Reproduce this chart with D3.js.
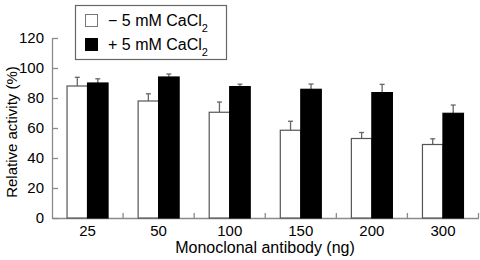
<!DOCTYPE html>
<html><head><meta charset="utf-8">
<script src="https://cdn.jsdelivr.net/npm/d3@7"></script>
<style>body{margin:0;background:#fff}svg{display:block}text{font-family:"Liberation Sans",Arial,sans-serif;fill:#000}</style>
</head><body><svg id="c" width="480" height="260"></svg>
<script>
const categories = ["25","50","100","150","200","300"];
const seriesNames = ["− 5 mM CaCl", "+ 5 mM CaCl"];
const withoutCa = [88, 78, 70.5, 58.5, 53, 49];
const withoutCaErr = [5.8, 4.8, 6.8, 6, 4, 3.8];
const withCa = [90, 94, 87.6, 85.8, 83.6, 69.8];
const withCaErr = [2.8, 2, 1.6, 3.5, 5.5, 5.5];
const yTicks = [0,20,40,60,80,100,120];

const svg = d3.select("#c");
const m = {l:52, r:2, t:38, b:42};
const x = d3.scaleBand().domain(categories).range([m.l, 478.5]).padding(0);
const y = d3.scaleLinear().domain([0,120]).range([218, 38]);
const axisCol = "#8a8a8a";

const barW = 20.5;
const series = [
  {vals: withoutCa, err: withoutCaErr, fill:"#fff", stroke:"#555", off:-barW},
  {vals: withCa, err: withCaErr, fill:"#000", stroke:"#000", off:0}
];

// y axis
const ya = svg.append("g").attr("transform",`translate(${m.l},0)`)
  .call(d3.axisLeft(y).tickValues(yTicks).tickSize(-6).tickPadding(8).tickSizeOuter(0));
ya.select(".domain").attr("stroke",axisCol).attr("stroke-width",1.3);
ya.selectAll(".tick line").attr("stroke",axisCol).attr("stroke-width",1.3);
ya.selectAll(".tick text").style("font-size","15px").attr("fill","#000");

// x axis
const xa = svg.append("g").attr("transform",`translate(0,${y(0)})`)
  .call(d3.axisBottom(x).tickSize(0).tickPadding(7).tickSizeOuter(0));
xa.select(".domain").attr("stroke",axisCol).attr("stroke-width",1.3);
xa.selectAll(".tick text").style("font-size","15px").attr("fill","#000");
// boundary ticks (upward)
const bounds = categories.slice(1).map(c => x(c)).concat([x(categories[categories.length-1]) + x.bandwidth()]);
svg.append("g").selectAll("line").data(bounds)
  .join("line")
  .attr("x1",d=>d).attr("x2",d=>d)
  .attr("y1",y(0)).attr("y2",y(0)-5).attr("stroke",axisCol).attr("stroke-width",1.3);

series.forEach(s=>{
  const g = svg.append("g");
  categories.forEach((c,i)=>{
    const cx = x(c)+x.bandwidth()/2 + s.off;
    g.append("line").attr("x1",cx+barW/2).attr("x2",cx+barW/2)
      .attr("y1",y(s.vals[i])).attr("y2",y(s.vals[i]+s.err[i])).attr("stroke","#666").attr("stroke-width",1.3);
    g.append("line").attr("x1",cx+barW/2-2.5).attr("x2",cx+barW/2+2.5)
      .attr("y1",y(s.vals[i]+s.err[i])).attr("y2",y(s.vals[i]+s.err[i])).attr("stroke","#666").attr("stroke-width",1.3);
    g.append("rect").attr("x",cx).attr("y",y(s.vals[i])).attr("width",barW)
      .attr("height",y(0)-y(s.vals[i])).attr("fill",s.fill).attr("stroke",s.stroke).attr("stroke-width",1.2);
  });
});

// axis titles
svg.append("text").attr("x",265).attr("y",253).attr("text-anchor","middle")
  .style("font-size","16px").text("Monoclonal antibody (ng)");
svg.append("text").attr("transform","translate(17,132) rotate(-90)").attr("text-anchor","middle")
  .style("font-size","15px").text("Relative activity (%)");

// legend
const lg = svg.append("g");
lg.append("rect").attr("x",75.5).attr("y",5.5).attr("width",151).attr("height",54)
  .attr("fill","#fff").attr("stroke","#666").attr("stroke-width",1.2);
series.forEach((s,i)=>{
  const yy = 14 + i*24;
  lg.append("rect").attr("x",85.5).attr("y",yy+0.5).attr("width",12).attr("height",12)
    .attr("fill",s.fill).attr("stroke",i===0?"#777":"#000").attr("stroke-width",1);
  const t = lg.append("text").attr("x",108).attr("y",yy+12).style("font-size","16px").text(seriesNames[i]);
  t.append("tspan").attr("baseline-shift","sub").style("font-size","11px").text("2");
});
</script></body></html>
